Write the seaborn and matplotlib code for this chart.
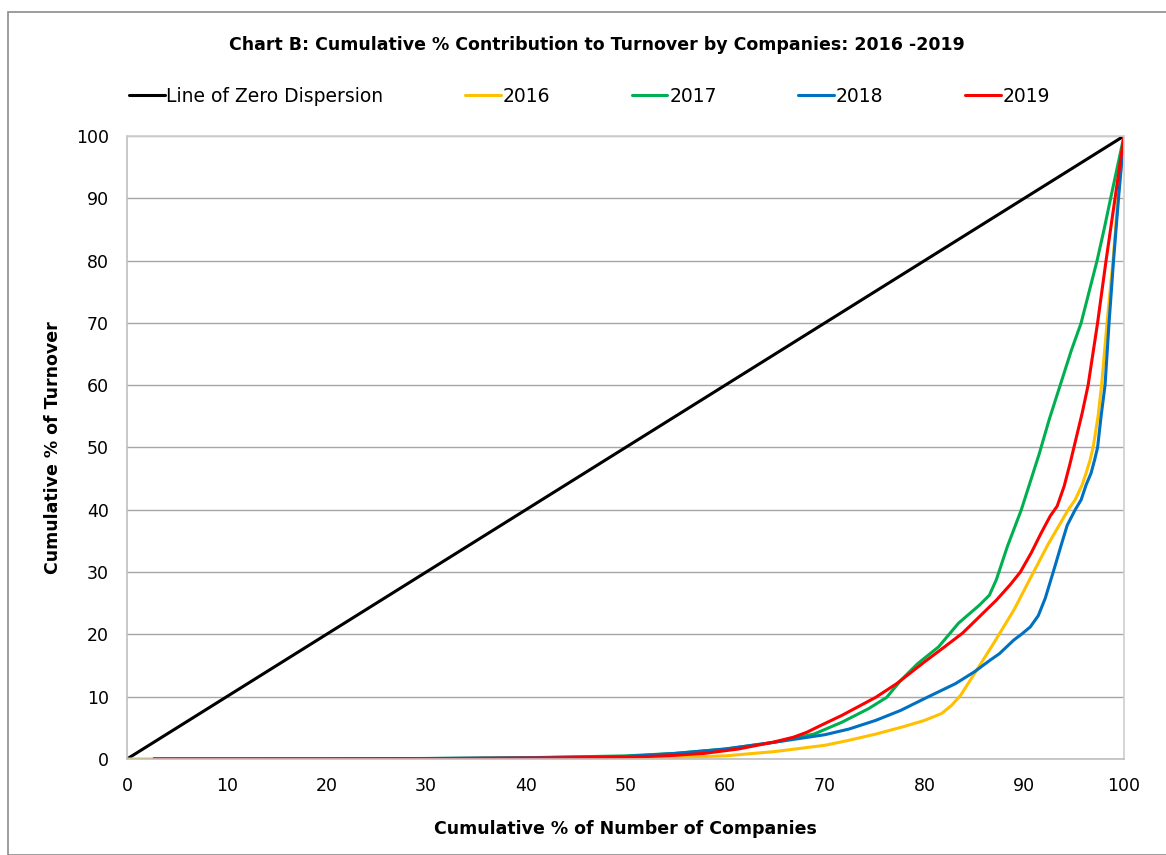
import matplotlib
matplotlib.use("Agg")
import matplotlib.pyplot as plt
import seaborn as sns
import pandas as pd
from matplotlib.patches import Rectangle

# Cumulative % of number of companies (x) vs cumulative % of turnover (y)
zero_x = [0, 100]
zero_y = [0, 100]

x_2016 = [0, 2.7, 10, 20, 30, 40, 50, 55, 60, 65, 70, 72.4, 75.1, 77.9, 80, 81.7,
          82.7, 83.6, 85, 86.9, 88.95, 90.7, 92.4, 94.4, 95.1, 95.8, 96.2, 96.6,
          96.9, 97.4, 97.75, 98.3, 98.9, 99.4, 100]
y_2016 = [0, 0, 0, 0, 0.02, 0.05, 0.1, 0.25, 0.5, 1.2, 2.2, 3.0, 4.0, 5.2, 6.2, 7.3,
          8.6, 10.2, 13.7, 18.5, 23.9, 29.3, 34.5, 40.0, 41.6, 44.0, 45.9, 48.0,
          50.0, 55.0, 60.0, 70, 80, 90, 100]

x_2017 = [2.7, 10, 20, 30, 40, 50, 55, 60, 65, 68.9, 71.7, 74.4, 76.2, 77.6, 79.3,
          81.4, 83.4, 85.5, 86.5, 87.2, 88.3, 89.7, 90.6, 91.5, 92.5, 93.6, 94.7,
          95.7, 96.5, 97.3, 98.0, 98.66, 100]
y_2017 = [0, 0.01, 0.03, 0.08, 0.2, 0.5, 0.9, 1.6, 2.7, 4.0, 5.9, 8.1, 9.9, 12.6, 15.3,
          18.0, 21.8, 24.7, 26.3, 28.8, 34.1, 40.0, 44.5, 49.0, 54.5, 60.0, 65.5,
          70, 75, 80, 85, 90, 100]

x_2018 = [2.7, 10, 20, 30, 40, 50, 55, 60, 65, 70, 72.4, 75.1, 77.6, 80, 83.1, 85,
          86.6, 87.5, 88.95, 89.7, 90.6, 91.4, 92.1, 92.9, 93.75, 94.3, 95.1, 95.7,
          96.2, 96.7, 97.05, 97.35, 97.7, 98.1, 98.5, 98.95, 99.45, 100]
y_2018 = [0, 0.01, 0.03, 0.08, 0.2, 0.4, 0.9, 1.6, 2.7, 3.9, 4.8, 6.2, 7.8, 9.7, 12.1, 14.0,
          15.9, 16.9, 19.1, 20.0, 21.2, 23.0, 25.8, 30.0, 34.6, 37.5, 40.0, 41.6,
          44.0, 45.9, 48.0, 50.0, 55.0, 60.0, 70, 80, 90, 100]

x_2019 = [2.7, 10, 20, 30, 40, 50, 54.4, 57.9, 61.3, 64.8, 66.85, 68.2, 69.6, 71.7,
          75.1, 77.2, 80, 82, 83.8, 85.15, 87.2, 88.6, 89.6, 90.7, 91.7, 92.6,
          93.3, 94.0, 94.6, 95.2, 95.8, 96.4, 97.35, 98.2, 99.1, 100]
y_2019 = [0, 0.01, 0.02, 0.05, 0.15, 0.27, 0.54, 0.9, 1.6, 2.7, 3.5, 4.3, 5.4, 7.0,
          9.9, 12.1, 15.6, 18.0, 20.2, 22.3, 25.5, 28.0, 30.0, 33.1, 36.3, 39.0,
          40.6, 43.8, 47.5, 51.5, 55.5, 60.0, 70, 80, 90, 100]

series = [
    ("Line of Zero Dispersion", zero_x, zero_y, "#000000"),
    ("2016", x_2016, y_2016, "#FFC000"),
    ("2017", x_2017, y_2017, "#00B050"),
    ("2018", x_2018, y_2018, "#0070C0"),
    ("2019", x_2019, y_2019, "#FF0000"),
]

sns.set_theme(style="white")
plt.rcParams["font.family"] = ["DejaVu Sans"]
plt.rcParams["text.color"] = "black"
plt.rcParams["axes.labelcolor"] = "black"
plt.rcParams["xtick.labelcolor"] = "black"
plt.rcParams["ytick.labelcolor"] = "black"

W, H = 1166, 855
fig = plt.figure(figsize=(W / 100, H / 100), dpi=100)
fig.patch.set_facecolor("white")

# chart frame
fig.patches.append(Rectangle((8 / W, 0), 1.2, 1 - 12 / H, transform=fig.transFigure,
                             fill=False, edgecolor="#8c8c8c", linewidth=1.2))

ax = fig.add_axes([127 / W, 1 - 759 / H, (1124 - 127) / W, (759 - 136) / H])

for name, xs, ys, col in series:
    df = pd.DataFrame({"x": xs, "y": ys})
    sns.lineplot(data=df, x="x", y="y", ax=ax, color=col, linewidth=2.2,
                 label=name, sort=False, estimator=None)

ax.set_xlim(0, 100)
ax.set_ylim(0, 100)
ax.set_xticks(range(0, 101, 10))
ax.set_yticks(range(0, 101, 10))
ax.tick_params(axis="both", labelsize=12.5, length=7, width=1, color="#bfbfbf",
               labelcolor="black", direction="out", pad=6)
ax.yaxis.grid(True, color="#a6a6a6", linewidth=1)
ax.xaxis.grid(False)
ax.set_axisbelow(True)
for side in ["left", "bottom"]:
    ax.spines[side].set_color("#bfbfbf")
    ax.spines[side].set_linewidth(1.2)
ax.spines["right"].set_color("#d0d0d0")
ax.spines["top"].set_color("#d0d0d0")

ax.set_xlabel("Cumulative % of Number of Companies", fontsize=12.5,
              fontweight="bold", labelpad=18, color="black")
ax.set_ylabel("Cumulative % of Turnover", fontsize=12.5, fontweight="bold",
              labelpad=10, color="black")

ax.get_legend().remove()
handles, labels = ax.get_legend_handles_labels()
leg = fig.legend(handles, labels, loc="center left", bbox_to_anchor=(129 / W, 1 - 96 / H),
                 ncol=5, frameon=False, fontsize=13.5, handlelength=1.9,
                 handletextpad=0.1, columnspacing=4.35, borderaxespad=0, borderpad=0)
for t in leg.get_texts():
    t.set_color("black")

fig.text(597 / W, 1 - 45 / H,
         "Chart B: Cumulative % Contribution to Turnover by Companies: 2016 -2019",
         ha="center", va="center", fontsize=12.5, fontweight="bold", color="black")

fig.savefig("out.png", dpi=100, facecolor="white")
